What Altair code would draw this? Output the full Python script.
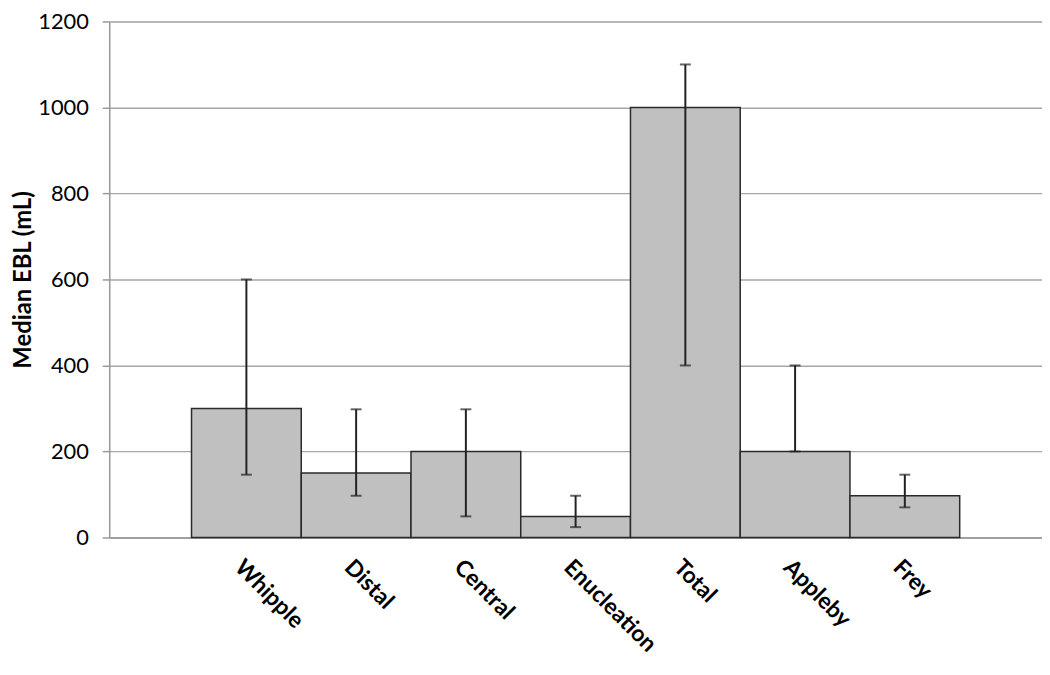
import altair as alt
import pandas as pd

categories = ["Whipple", "Distal", "Central", "Enucleation", "Total", "Appleby", "Frey"]
median_ebl = [300, 150, 200, 49, 1000, 200, 97]
err_low = [146, 97, 49, 24, 400, 200, 70]
err_high = [600, 298, 298, 97, 1100, 400, 146]
y_ticks = [0, 200, 400, 600, 800, 1000, 1200]

df = pd.DataFrame({"cat": categories, "val": median_ebl, "lo": err_low, "hi": err_high})

FONT = "Lato"

x_enc = alt.X("cat:N", sort=categories,
              scale=alt.Scale(paddingInner=0, paddingOuter=0.75),
              axis=alt.Axis(title=None, labelAngle=45, labelAlign="left", labelBaseline="middle",
                            labelFont=FONT, labelFontSize=23, labelFontWeight="bold", labelColor="#000",
                            labelPadding=26, labelOffset=-8, ticks=False, domain=True, domainColor="#999",
                            domainWidth=1.5, grid=False))

y_scale = alt.Scale(domain=[0, 1200], nice=False)

bars = alt.Chart(df).mark_bar(fill="#c0c0c0", stroke="#2a2a2a", strokeWidth=1.5).encode(
    x=x_enc,
    y=alt.Y("val:Q", scale=y_scale,
            axis=alt.Axis(title="Median EBL (mL)", values=y_ticks, format="d",
                          titleFont=FONT, titleFontSize=24,
                          titleFontWeight="bold", titleColor="#000", titlePadding=2,
                          labelFont=FONT, labelFontSize=22, labelColor="#000", labelPadding=14,
                          tickSize=7, tickColor="#999", tickWidth=1.5, domainColor="#999", domainWidth=1.5,
                          gridColor="#a6a6a6", gridWidth=1.5)),
)

rules = alt.Chart(df).mark_rule(color="#222", strokeWidth=2).encode(
    x=alt.X("cat:N", sort=categories), y=alt.Y("lo:Q", scale=y_scale), y2="hi:Q")
cap_hi = alt.Chart(df).mark_tick(color="#222", size=11, thickness=2, orient="horizontal").encode(
    x=alt.X("cat:N", sort=categories), y=alt.Y("hi:Q", scale=y_scale))
cap_lo = alt.Chart(df).mark_tick(color="#222", size=11, thickness=2, orient="horizontal").encode(
    x=alt.X("cat:N", sort=categories), y=alt.Y("lo:Q", scale=y_scale))

chart = alt.layer(bars, rules, cap_hi, cap_lo).properties(
    width=940, height=520,
    autosize=alt.AutoSizeParams(type="none"),
    padding={"left": 102, "top": 11, "right": 0, "bottom": 130},
).configure_view(stroke=None).configure(background="white")

chart.save("out.html", embed_options={"renderer": "svg", "actions": False})
